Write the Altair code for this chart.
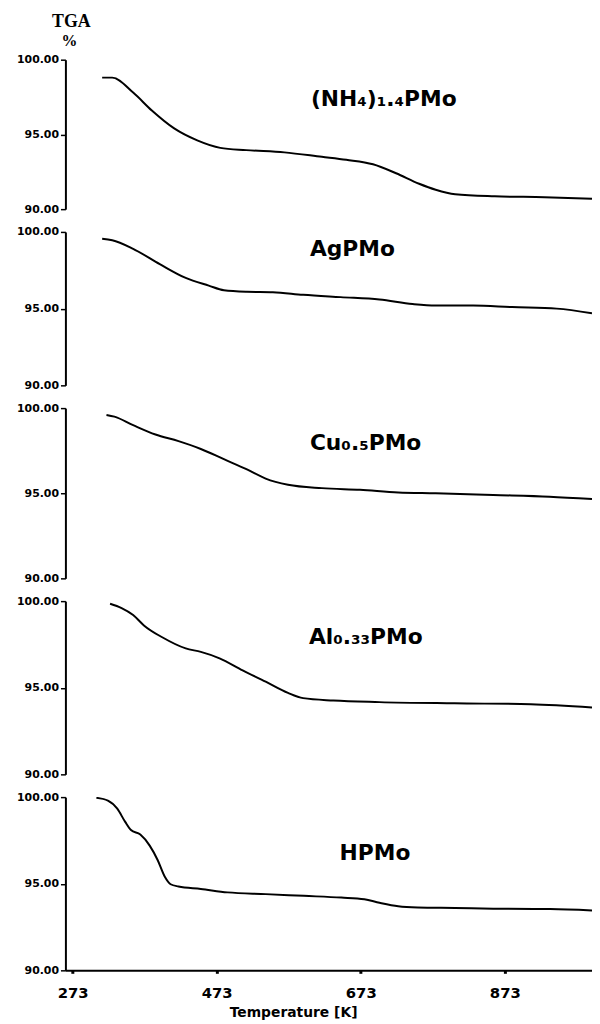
import altair as alt
import pandas as pd

# ---- data (temperature in K, TGA mass in %) ----
temps_nh4 = [314, 328, 357, 383, 414, 446, 478, 514, 567, 619, 653, 690, 722, 754, 777, 804, 859, 928, 994]
tga_nh4 = [98.8, 98.8, 97.8, 96.6, 95.4, 94.6, 94.1, 93.95, 93.8, 93.5, 93.3, 93.0, 92.4, 91.7, 91.3, 91.0, 90.86, 90.8, 90.7]

temps_ag = [314, 328, 357, 394, 430, 462, 483, 515, 551, 593, 645, 699, 745, 777, 829, 883, 945, 994]
tga_ag = [99.55, 99.46, 98.9, 97.9, 97.0, 96.5, 96.2, 96.1, 96.07, 95.9, 95.75, 95.6, 95.3, 95.2, 95.2, 95.1, 95.0, 94.7]

temps_cu = [320, 331, 357, 388, 420, 451, 483, 515, 541, 572, 619, 672, 725, 777, 857, 935, 994]
tga_cu = [99.6, 99.5, 99.0, 98.45, 98.06, 97.6, 97.0, 96.4, 95.86, 95.5, 95.3, 95.2, 95.05, 95.0, 94.9, 94.8, 94.66]

temps_al = [325, 341, 357, 372, 398, 430, 451, 477, 509, 541, 572, 593, 635, 699, 803, 909, 994]
tga_al = [99.85, 99.6, 99.2, 98.6, 97.9, 97.27, 97.07, 96.7, 96.0, 95.35, 94.7, 94.4, 94.26, 94.17, 94.1, 94.05, 93.86]

temps_h = [306, 322, 335, 346, 354, 367, 380, 391, 401, 409, 420, 451, 488, 541, 594, 646, 678, 699, 725, 752, 804, 857, 936, 994]
tga_h = [99.96, 99.8, 99.33, 98.57, 98.1, 97.84, 97.2, 96.37, 95.4, 94.97, 94.84, 94.7, 94.5, 94.4, 94.3, 94.2, 94.1, 93.9, 93.7, 93.63, 93.6, 93.56, 93.54, 93.46]

sample_names = ["(NH₄)₁.₄PMo", "AgPMo", "Cu₀.₅PMo", "Al₀.₃₃PMo", "HPMo"]
x_tick_values = [273, 473, 673, 873]
y_tick_values = [90, 95, 100]
y_title_lines = ["TGA", "%"]
x_title = "Temperature [K]"

series = [(temps_nh4, tga_nh4), (temps_ag, tga_ag), (temps_cu, tga_cu),
          (temps_al, tga_al), (temps_h, tga_h)]

# ---- layout / style ----
W = 532
heights = [151, 155, 172, 175, 175]
label_pos = [(248, 40), (247, 17), (247, 35), (246, 36), (277, 57)]

xscale = alt.Scale(domain=[263, 994], nice=False, zero=False)
yscale = alt.Scale(domain=[90, 100], nice=False, zero=False)

yaxis = alt.Axis(values=y_tick_values, format=".2f", title=None, grid=False,
                 domainWidth=2, domainColor="black", tickColor="black",
                 tickSize=5, tickWidth=1.5, labelFont="DejaVu Sans",
                 labelFontWeight="bold", labelFontSize=11, labelColor="black",
                 labelPadding=2)

xaxis_bottom = alt.Axis(values=x_tick_values, format="d", title=x_title, grid=False,
                        domainWidth=2, domainColor="black", tickColor="black",
                        tickSize=3, tickWidth=3, labelFont="DejaVu Sans",
                        labelFontWeight="bold", labelFontSize=15, labelColor="black",
                        labelPadding=12, titleFont="DejaVu Sans", titleFontWeight="bold",
                        titleFontSize=14, titleColor="black", titleX=230, titleY=43,
                        titleBaseline="middle", titleAlign="center")

panels = []
for i, ((t, v), name, h, (lx, ly)) in enumerate(zip(series, sample_names, heights, label_pos)):
    df = pd.DataFrame({"T": t, "TGA": v})
    last = i == len(series) - 1
    line = alt.Chart(df).mark_line(
        color="black", strokeWidth=2, interpolate="monotone", clip=True
    ).encode(
        x=alt.X("T:Q", scale=xscale, axis=xaxis_bottom if last else None),
        y=alt.Y("TGA:Q", scale=yscale, axis=yaxis),
    )
    label = alt.Chart(pd.DataFrame({"label": [name]})).mark_text(
        align="left", baseline="middle", font="DejaVu Sans", fontWeight="bold",
        fontSize=22, color="black"
    ).encode(text="label:N", x=alt.value(lx), y=alt.value(ly))
    layers = [line, label]
    if i == 0:
        tga = alt.Chart(pd.DataFrame({"label": [y_title_lines[0]]})).mark_text(
            align="center", baseline="middle", font="Liberation Serif",
            fontWeight="bold", fontSize=18, color="black"
        ).encode(text="label:N", x=alt.value(6), y=alt.value(-38))
        pct = alt.Chart(pd.DataFrame({"label": [y_title_lines[1]]})).mark_text(
            align="center", baseline="middle", font="Liberation Serif",
            fontWeight="bold", fontSize=16, color="black"
        ).encode(text="label:N", x=alt.value(4), y=alt.value(-19))
        layers += [tga, pct]
    panels.append(alt.layer(*layers).properties(width=W, height=h))

chart = alt.vconcat(*panels, spacing=12).properties(
    padding={"left": 8, "right": 0, "top": 0, "bottom": 0},
    background="white",
).configure_view(stroke=None)

chart.save("out.html", embed_options={"renderer": "svg", "actions": False})
